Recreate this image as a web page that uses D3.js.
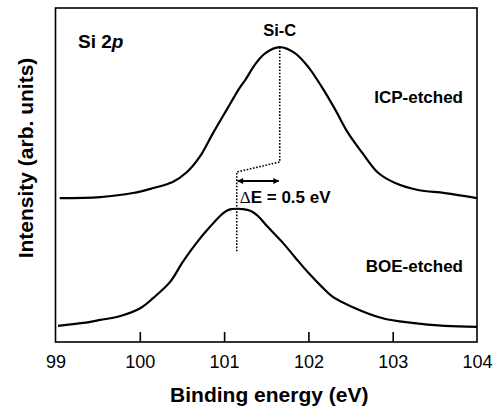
<!DOCTYPE html>
<html>
<head>
<meta charset="utf-8">
<script src="https://cdn.jsdelivr.net/npm/d3@7"></script>
<style>
  body { margin: 0; background: #fff; }
  text { font-family: Arial, "Liberation Sans", Helvetica, sans-serif; fill: #000; }
</style>
</head>
<body>
<script>
// binding energy (eV) / intensity (arb. units)
const icpEnergy = [99.05, 99.53, 99.92, 100.16, 100.39, 100.56, 100.71, 100.87, 101.03, 101.19, 101.25, 101.37, 101.49, 101.66, 101.84, 102.0, 102.16, 102.32, 102.47, 102.64, 102.83, 103.03, 103.3, 103.62, 104.0]
const icpIntensity = [4.31, 4.34, 4.46, 4.61, 4.79, 5.09, 5.54, 6.26, 6.95, 7.63, 7.84, 8.32, 8.65, 8.83, 8.65, 8.23, 7.63, 6.95, 6.26, 5.66, 5.06, 4.76, 4.55, 4.46, 4.31]

const boeEnergy = [99.03, 99.33, 99.53, 99.77, 100.01, 100.16, 100.36, 100.51, 100.68, 100.83, 100.99, 101.07, 101.15, 101.22, 101.31, 101.39, 101.52, 101.69, 101.84, 102.0, 102.16, 102.29, 102.52, 102.87, 103.23, 103.62, 104.0]
const boeIntensity = [0.48, 0.57, 0.66, 0.78, 1.02, 1.32, 1.80, 2.40, 2.99, 3.44, 3.86, 3.97, 3.99, 3.98, 3.93, 3.80, 3.44, 2.99, 2.54, 2.07, 1.65, 1.35, 1.05, 0.72, 0.57, 0.48, 0.45]

const xTicks = [99, 100, 101, 102, 103, 104]

// peak positions and the dotted guide
const sicPeak = 101.66
const boePeak = 101.15
const guideE = [sicPeak, sicPeak, boePeak, boePeak]
const guideI = [8.83, 5.39, 5.09, 2.69]
const arrowI = 4.82

const WIDTH = 495
const HEIGHT = 411
const M = { left: 55.5, right: 477, top: 8, bottom: 342 }

const svg = d3.select('body').append('svg')
  .attr('width', WIDTH)
  .attr('height', HEIGHT)

const x = d3.scaleLinear().domain([99, 104]).range([M.left, M.right])
const y = d3.scaleLinear().domain([0, 10]).range([M.bottom, M.top])

// frame
svg.append('rect')
  .attr('x', M.left)
  .attr('y', M.top)
  .attr('width', M.right - M.left)
  .attr('height', M.bottom - M.top)
  .attr('fill', 'none')
  .attr('stroke', '#000')
  .attr('stroke-width', 1.6)

// x axis, ticks pointing inward
const xAxis = svg.append('g')
  .attr('transform', `translate(0,${M.bottom})`)
  .call(d3.axisBottom(x).tickValues(xTicks).tickFormat(d3.format('d'))
    .tickSizeInner(-10).tickSizeOuter(0).tickPadding(13))
xAxis.select('.domain').remove()
xAxis.selectAll('line').attr('stroke-width', 1.6)
  .filter(d => d === 99 || d === 104).remove()
xAxis.selectAll('text')
  .attr('font-size', 18)
  .style('font-family', 'Arial, "Liberation Sans", sans-serif')

// spectra
const line = d3.line()
  .x(d => x(d[0]))
  .y(d => y(d[1]))
  .curve(d3.curveCatmullRom.alpha(0.5))

svg.append('path')
  .datum(d3.zip(icpEnergy, icpIntensity))
  .attr('d', line)
  .attr('fill', 'none')
  .attr('stroke', '#000')
  .attr('stroke-width', 2.2)

svg.append('path')
  .datum(d3.zip(boeEnergy, boeIntensity))
  .attr('d', line)
  .attr('fill', 'none')
  .attr('stroke', '#000')
  .attr('stroke-width', 2.2)

// dotted guide between the two peaks
svg.append('path')
  .datum(d3.zip(guideE, guideI))
  .attr('d', d3.line().x(d => x(d[0])).y(d => y(d[1])))
  .attr('fill', 'none')
  .attr('stroke', '#000')
  .attr('stroke-width', 1.6)
  .attr('stroke-dasharray', '1.6,1.6')

// double arrow
const defs = svg.append('defs')
defs.append('marker')
  .attr('id', 'ah')
  .attr('viewBox', '0 0 10 10')
  .attr('refX', 9)
  .attr('refY', 5)
  .attr('markerWidth', 7)
  .attr('markerHeight', 6)
  .attr('markerUnits', 'userSpaceOnUse')
  .attr('orient', 'auto-start-reverse')
  .append('path')
  .attr('d', 'M0,0L10,5L0,10Z')
  .attr('fill', '#000')

svg.append('line')
  .attr('x1', x(boePeak) + 1)
  .attr('x2', x(sicPeak) - 1)
  .attr('y1', y(arrowI))
  .attr('y2', y(arrowI))
  .attr('stroke', '#000')
  .attr('stroke-width', 1.8)
  .attr('marker-start', 'url(#ah)')
  .attr('marker-end', 'url(#ah)')

// labels
svg.append('text')
  .attr('x', 78)
  .attr('y', 48)
  .attr('font-size', 19)
  .attr('font-weight', 'bold')
  .html('Si 2<tspan font-style="italic">p</tspan>')

svg.append('text')
  .attr('x', x(sicPeak))
  .attr('y', 36)
  .attr('text-anchor', 'middle')
  .attr('font-size', 16.5)
  .attr('font-weight', 'bold')
  .text('Si-C')

svg.append('text')
  .attr('x', 463)
  .attr('y', 103)
  .attr('text-anchor', 'end')
  .attr('font-size', 17)
  .attr('font-weight', 'bold')
  .text('ICP-etched')

svg.append('text')
  .attr('x', 463)
  .attr('y', 272)
  .attr('text-anchor', 'end')
  .attr('font-size', 17)
  .attr('font-weight', 'bold')
  .text('BOE-etched')

const de = svg.append('text')
  .attr('x', x(boePeak) + 3)
  .attr('y', 203)
  .attr('font-size', 17)
  .attr('font-weight', 'bold')
de.append('tspan')
  .attr('font-family', '"Liberation Serif", "Times New Roman", serif')
  .attr('font-weight', 'normal')
  .text('\u0394')
de.append('tspan').text('E = 0.5 eV')

// axis titles
svg.append('text')
  .attr('x', (M.left + M.right) / 2 + 3)
  .attr('y', 402)
  .attr('text-anchor', 'middle')
  .attr('font-size', 21)
  .attr('font-weight', 'bold')
  .text('Binding energy (eV)')

svg.append('text')
  .attr('transform', 'translate(33,158) rotate(-90)')
  .attr('text-anchor', 'middle')
  .attr('font-size', 21)
  .attr('font-weight', 'bold')
  .text('Intensity (arb. units)')
</script>
</body>
</html>
